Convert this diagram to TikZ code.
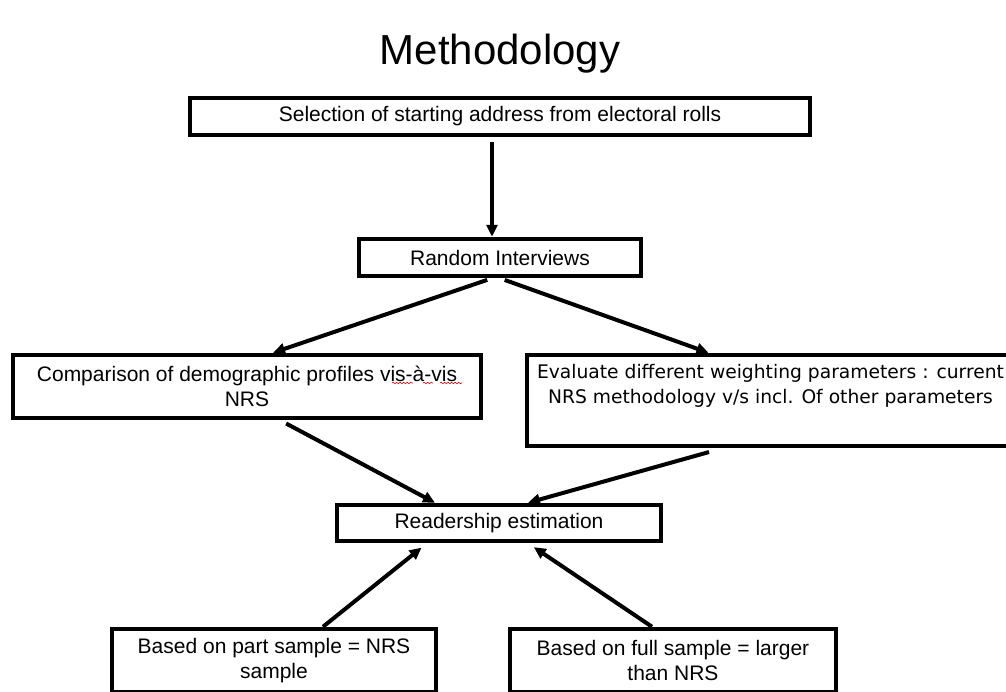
\documentclass[tikz,border=0pt]{standalone}
\usepackage{fontspec}
\setmainfont{Liberation Sans}
\newfontfamily\tahoma{DejaVu Sans}
\usetikzlibrary{positioning,arrows.meta,decorations.pathmorphing}

\begin{document}
\begin{tikzpicture}[x=1pt, y=-1pt,
  box/.style={draw, rectangle, line width=4.5pt, align=center, inner sep=0pt,
    font=\fontsize{21}{25}\selectfont},
  arr/.style={-{Triangle[length=12pt,width=11pt]}, line width=4pt},
  spell/.style={red!80!black, line width=0.6pt, decorate,
    decoration={snake, amplitude=0.8pt, segment length=3.5pt}}]
  \useasboundingbox (0,0) rectangle (1006,691);
  \clip (0,0) rectangle (1006,691);
  \fill[white] (0,0) rectangle (1006,691);

  \node (title) [font=\fontsize{42}{48}\selectfont, anchor=base] at (500,64) {Methodology};

  \node (sel)   [box, minimum width=620pt, minimum height=37pt] at (500,116.5)
        {Selection of starting address from electoral rolls};
  \node (rand)  [box, minimum width=282pt, minimum height=37pt] at (500,257.5)
        {Random Interviews};
  \node (comp)  [box, minimum width=468pt, minimum height=63pt] at (247,386.5)
        {Comparison of demographic profiles vis-à-vis\\NRS};
  \node (eval)  [box, minimum width=487pt, minimum height=91pt,
        font=\tahoma\fontsize{18.7}{25}\selectfont] at (770.5,400.5)
        {Evaluate different weighting parameters : current\\NRS methodology v/s incl. Of other parameters\\\strut};
  \node (read)  [box, minimum width=324pt, minimum height=36pt] at (499,523)
        {Readership estimation};
  \node (partb) [box, minimum width=324pt, minimum height=63pt] at (274,660.5)
        {Based on part sample = NRS\\sample};
  \node (fullb) [box, minimum width=326pt, minimum height=63pt] at (673,660.5)
        {Based on full sample = larger\\than NRS};

  % spell-check marks under vis-a-vis
  \draw[spell] (392,383) -- (413,383);
  \draw[spell] (423,383) -- (433,383);
  \draw[spell] (440,383) -- (462,383);

  \path[arr]
    ([xshift=-8pt]sel.south) edge[shorten <=5pt] ([xshift=-8pt]rand.north)
    ([xshift=-8pt]rand.south) edge[shorten <=5pt] ([xshift=26pt]comp.north)
    (rand.south) edge[shorten <=5pt] ([xshift=-62pt]eval.north)
    ([xshift=33pt]comp.south) edge[shorten <=7pt] ([xshift=-64pt]read.north)
    ([xshift=-48pt]eval.south) edge[shorten <=14pt] ([xshift=29pt]read.north)
    ([xshift=49pt]partb.north) edge[shorten >=7pt] ([xshift=-72pt]read.south)
    ([xshift=-21pt]fullb.north) edge[shorten >=7pt] ([xshift=29pt]read.south);
\end{tikzpicture}
\end{document}
